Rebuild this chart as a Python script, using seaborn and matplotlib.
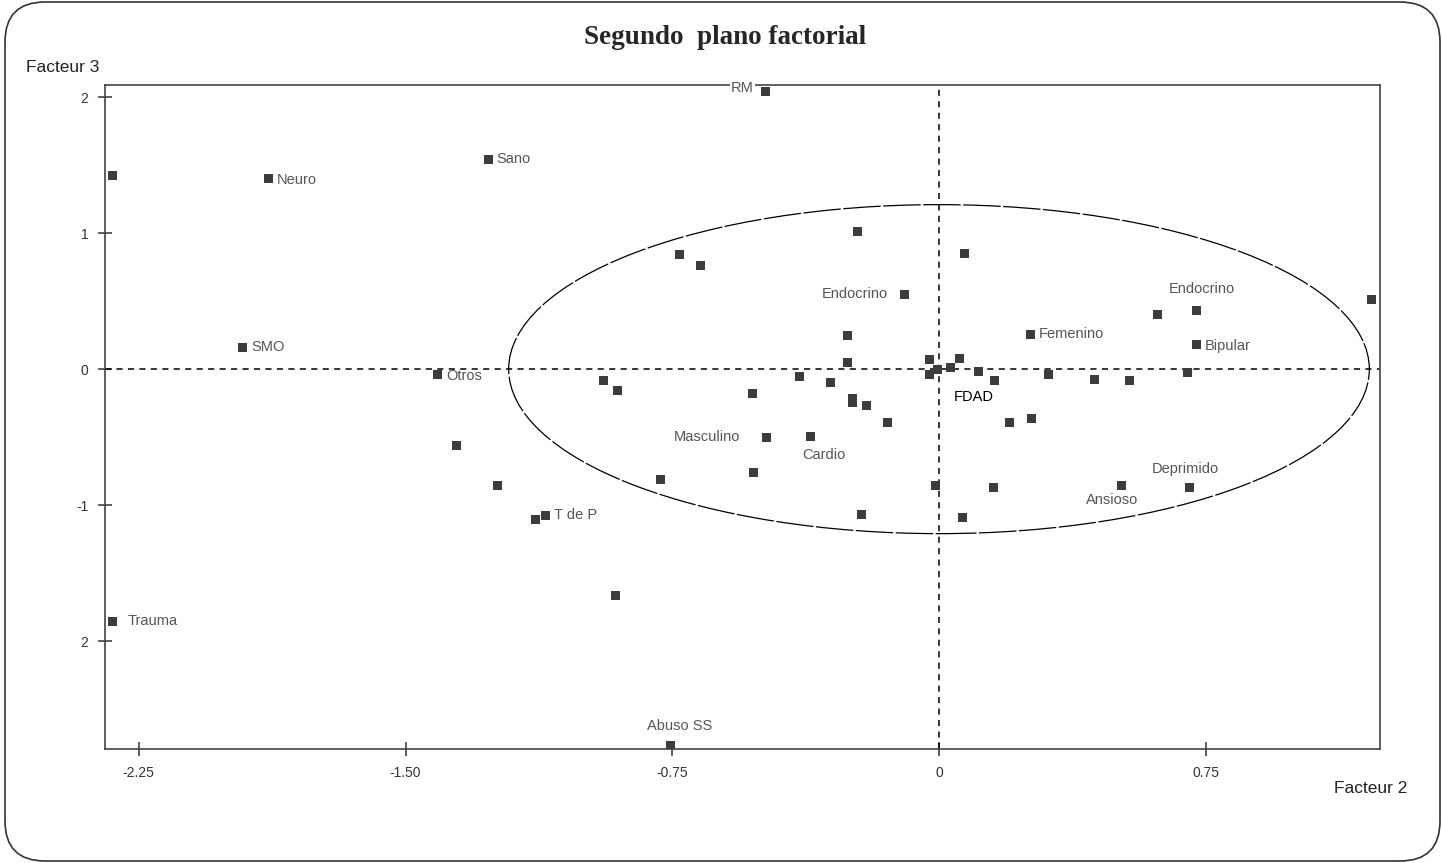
import matplotlib
matplotlib.use("Agg")
import numpy as np
import pandas as pd
import seaborn as sns
import matplotlib.pyplot as plt
from matplotlib.patches import Ellipse, FancyBboxPatch

# coordinates (Facteur 2 horizontal, Facteur 3 vertical)
factor2 = [-2.323, -1.885, -1.267, -0.489, -1.958, -1.410, -1.357, -1.242, -1.107, -1.135,
           -0.910, -2.323, -0.756, -0.784, -0.944, -0.904, -0.730, -0.671, -0.230, -0.096,
           -0.256, -0.256, -0.393, -0.306, -0.525, -0.242, -0.244, -0.205, -0.146, -0.486,
           -0.360, -0.522, -0.219, -0.011, 0.067, 0.073, -0.028, -0.028, -0.003, 0.031,
           0.059, 0.112, 0.157, 0.152, 0.199, 0.256, 0.261, 0.309, 0.438, 0.537,
           0.514, 0.615, 0.725, 0.725, 0.699, 0.705, 1.216]
factor3 = [1.426, 1.404, 1.544, 2.044, 0.162, -0.037, -0.559, -0.853, -1.074, -1.103,
           -1.662, -1.853, -2.765, -0.809, -0.081, -0.154, 0.846, 0.765, 1.015, 0.551,
           0.250, 0.051, -0.051, -0.096, -0.176, -0.213, -0.243, -0.265, -0.390, -0.500,
           -0.493, -0.757, -1.066, -0.853, -1.088, 0.853, 0.074, -0.037, 0.000, 0.015,
           0.081, -0.020, -0.081, -0.868, -0.390, 0.257, -0.360, -0.037, -0.074, -0.081,
           -0.853, 0.404, 0.434, 0.184, -0.022, -0.868, 0.515]
labels = ["", "Neuro", "Sano", "RM", "SMO", "Otros", "", "", "T de P", "",
          "", "Trauma", "Abuso SS", "", "", "", "", "", "", "Endocrino",
          "", "", "", "", "", "", "", "", "", "Masculino",
          "Cardio", "", "", "", "", "", "", "", "", "",
          "", "FDAD", "", "", "", "Femenino", "", "", "", "",
          "Ansioso", "", "Endocrino", "Bipular", "", "Deprimido", ""]

circle_radius = 1.21
xticks = [-2.25, -1.50, -0.75, 0, 0.75]
xtick_labels = ["-2.25", "-1.50", "-0.75", "0", "0.75"]
yticks = [2, 1, 0, -1, -2]
ytick_labels = ["2", "1", "0", "-1", "2"]

df = pd.DataFrame({"Facteur 2": factor2, "Facteur 3": factor3, "label": labels})

# label placement (offset in points, horizontal alignment), by point index
label_pos = {
    1: (6, -1, "left"), 2: (6, 0, "left"), 3: (-8, 2, "right"), 4: (6, 0, "left"),
    5: (6, -1, "left"), 8: (6, 0, "left"), 11: (11, 0, "left"), 12: (7, 14, "center"),
    19: (-12, 0, "right"), 29: (-19, 0, "right"), 30: (9, -13.5, "center"),
    41: (-4, -18, "center"), 45: (6, 0, "left"), 50: (-7, -11, "center"),
    52: (3.5, 15, "center"), 53: (6, -1, "left"), 55: (-3.5, 13, "center"),
}

sns.set_style("white")
plt.rcParams["font.family"] = ["Liberation Sans", "DejaVu Sans"]

fig = plt.figure(figsize=(14.42, 8.63), dpi=100)
ax = fig.add_axes([105 / 1442, 1 - 749 / 863, 1275 / 1442, 664 / 863])

ax.axhline(0, color="black", lw=1.1, ls=(0, (4, 3.5)), zorder=1)
ax.axvline(0, color="black", lw=1.1, ls=(0, (4, 3.5)), zorder=1)
ax.add_patch(Ellipse((0, 0), 2 * circle_radius, 2 * circle_radius, fill=False,
                     ec="black", lw=0.9, ls=(0, (30, 2)), zorder=1))

sns.scatterplot(data=df, x="Facteur 2", y="Facteur 3", marker="s", s=42,
                color="#3c3c3c", edgecolor="none", ax=ax, zorder=3)

for i, (x, y, lab) in enumerate(zip(factor2, factor3, labels)):
    if not lab:
        continue
    dx, dy, ha = label_pos[i]
    kw = {}
    if lab == "RM":
        kw["bbox"] = dict(fc="white", ec="none", pad=1)
    ax.annotate(lab, (x, y), xytext=(dx, dy), textcoords="offset points",
                ha=ha, va="center", fontsize=10.5,
                color="black" if lab == "FDAD" else "#555555",
                annotation_clip=False, zorder=4, **kw)

ax.set_xlim(-2.345, 1.240)
ax.set_ylim(-2.794, 2.090)
ax.set_xticks(xticks)
ax.set_xticklabels(xtick_labels)
ax.set_yticks(yticks)
ax.set_yticklabels(ytick_labels)
ax.set_xlabel("")
ax.set_ylabel("")
ax.tick_params(axis="both", direction="inout", length=10, width=1.1,
               color="#333333", labelsize=10, labelcolor="#333333", pad=7)
ax.tick_params(left=True, bottom=True)
for sp in ax.spines.values():
    sp.set_visible(True)
    sp.set_color("#444444")
    sp.set_linewidth(1.2)

fig.text(725 / 1442, 1 - 38 / 863, "Segundo  plano factorial", ha="center", va="center",
         fontsize=19.5, fontweight="bold", family=["Liberation Serif", "DejaVu Serif"])
fig.text(26 / 1442, 1 - 67 / 863, "Facteur 3", ha="left", va="center",
         fontsize=12.5, color="#222222")
fig.text(1334 / 1442, 1 - 788 / 863, "Facteur 2", ha="left", va="center",
         fontsize=12.5, color="#222222")

frame = FancyBboxPatch((0.05, 0.02), 14.35, 8.59,
                       boxstyle="round,pad=0,rounding_size=0.40",
                       transform=fig.dpi_scale_trans, fill=False,
                       ec="#333333", lw=1.2)
fig.add_artist(frame)

fig.savefig("out.png", dpi=100, facecolor="white")
